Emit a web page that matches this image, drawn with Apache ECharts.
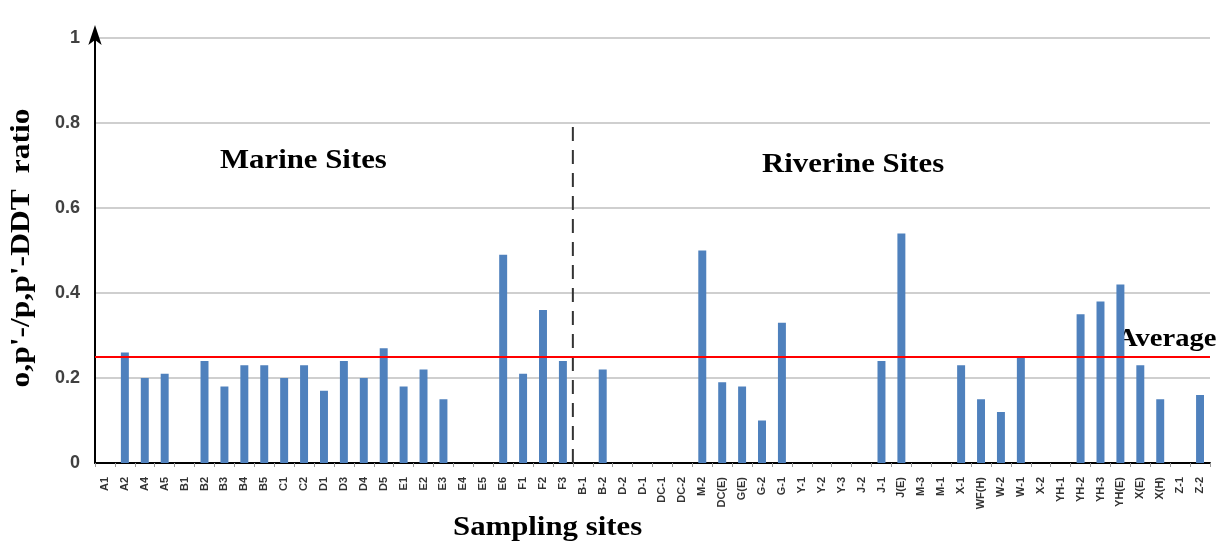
<!DOCTYPE html>
<html>
<head>
<meta charset="utf-8">
<script src="https://cdn.jsdelivr.net/npm/echarts@6/dist/echarts.min.js"></script>
<style>
  html, body { margin: 0; padding: 0; background: #fff; }
  #chart { width: 1222px; height: 546px; }
</style>
</head>
<body>
<div id="chart"></div>
<script>
// sampling sites (marine first, then riverine)
var sites = ['A1','A2','A4','A5','B1','B2','B3','B4','B5','C1','C2','D1','D3','D4','D5',
    'E1','E2','E3','E4','E5','E6','F1','F2','F3',
    'B-1','B-2','D-2','D-1','DC-1','DC-2','M-2','DC(E)','G(E)','G-2','G-1',
    'Y-1','Y-2','Y-3','J-2','J-1','J(E)','M-3','M-1','X-1','WF(H)','W-2','W-1',
    'X-2','YH-1','YH-2','YH-3','YH(E)','X(E)','X(H)','Z-1','Z-2'];
var ratio = [0,0.26,0.20,0.21,0,0.24,0.18,0.23,0.23,0.20,0.23,0.17,0.24,0.20,0.27,
    0.18,0.22,0.15,0,0,0.49,0.21,0.36,0.24,
    0,0.22,0,0,0,0,0.50,0.19,0.18,0.10,0.33,
    0,0,0,0,0.24,0.54,0,0,0.23,0.15,0.12,0.25,
    0,0,0.35,0.38,0.42,0.23,0.15,0,0.16];
var average = 0.25;
var yTicks = [0, 0.2, 0.4, 0.6, 0.8, 1];
// divider between marine and riverine sites (boundary index, top value)
var divider = [[24, 0], [24, 0.8]];

var chart = echarts.init(document.getElementById('chart'));
var serif = '"Liberation Serif", "DejaVu Serif", serif';
var option = {
    animation: false,
    grid: { left: 95, right: 12, top: 38, bottom: 83 },
    xAxis: [
        {
            type: 'category',
            data: sites,
            axisLine: { lineStyle: { color: '#000', width: 2 } },
            axisTick: { show: true, alignWithLabel: false, length: 4, lineStyle: { color: '#999' } },
            axisLabel: {
                rotate: 90, interval: 0, fontSize: 11, fontWeight: 'bold',
                color: '#333', fontFamily: 'Arial, "Liberation Sans", sans-serif', margin: 14
            },
            splitLine: { show: false }
        },
        {
            type: 'value', min: 0, max: sites.length, show: false
        }
    ],
    yAxis: {
        type: 'value',
        min: yTicks[0], max: yTicks[yTicks.length - 1], interval: 0.2,
        axisLine: { show: true, symbol: ['none', 'arrow'], symbolSize: [10, 20], symbolOffset: [0, 13],
            lineStyle: { color: '#000', width: 2 } },
        axisTick: { show: false },
        axisLabel: {
            fontSize: 18, fontWeight: 'bold', color: '#404040', margin: 15,
            fontFamily: 'Arial, "Liberation Sans", sans-serif',
            formatter: function (v) { return String(v); }
        },
        splitLine: { lineStyle: { color: '#bfbfbf', width: 1.5 } }
    },
    series: [
        {
            type: 'bar',
            data: ratio,
            barWidth: '40%',
            itemStyle: { color: '#4f81bd' },
            markLine: {
                silent: true, symbol: ['none', 'none'],
                label: { show: false },
                lineStyle: { color: '#ff0000', width: 2, type: 'solid' },
                data: [{ yAxis: average }]
            }
        },
        {
            type: 'line',
            xAxisIndex: 1,
            data: divider,
            symbol: 'none',
            lineStyle: { color: '#333', width: 2, type: [14, 9] }
        }
    ],
    graphic: [
        { type: 'text', x: 22, y: 248, rotation: Math.PI / 2, scaleX: 1.17,
          style: { text: "o,p'-/p,p'-DDT  ratio", font: 'bold 27px ' + serif, fill: '#000',
                   textAlign: 'center', textVerticalAlign: 'middle' } },
        { type: 'text', x: 220, y: 147, scaleX: 1.1,
          style: { text: 'Marine Sites', font: 'bold 28px ' + serif, fill: '#000' } },
        { type: 'text', x: 762, y: 151, scaleX: 1.1,
          style: { text: 'Riverine Sites', font: 'bold 28px ' + serif, fill: '#000' } },
        { type: 'text', x: 1117, y: 326, scaleX: 1.1,
          style: { text: 'Average', font: 'bold 26px ' + serif, fill: '#000' } },
        { type: 'text', x: 453, y: 514, scaleX: 1.1,
          style: { text: 'Sampling sites', font: 'bold 28px ' + serif, fill: '#000' } }
    ]
};
chart.setOption(option);
</script>
</body>
</html>
